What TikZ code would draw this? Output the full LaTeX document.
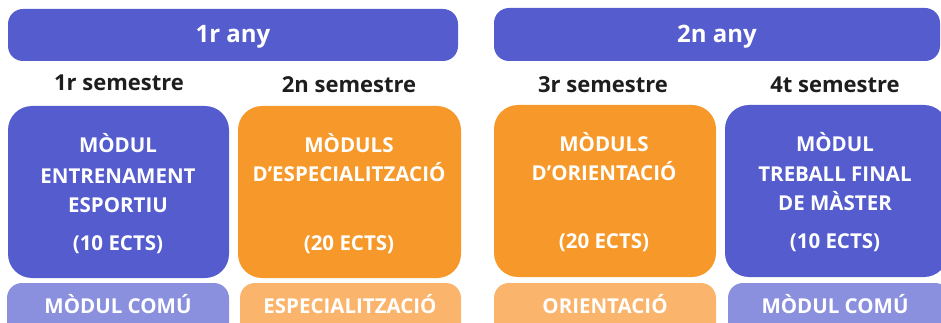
\documentclass[tikz,border=0pt]{standalone}
\usepackage{fontspec}
\setmainfont{Open Sans}
\definecolor{cblue}{RGB}{84,92,206}
\definecolor{corange}{RGB}{247,153,42}
\definecolor{clblue}{RGB}{138,144,222}
\definecolor{clorange}{RGB}{251,180,107}
\definecolor{ctext}{RGB}{30,30,30}
\tikzset{
  bar/.style={fill=cblue, draw=none, rounded corners=15pt},
  bigbox/.style={draw=none, rounded corners=24pt},
  lowbox/.style={draw=none, rounded corners=15pt},
  bartext/.style={text=white, font=\fontsize{24}{28}\selectfont\bfseries, anchor=base, inner sep=0pt},
  semtext/.style={text=ctext, font=\fontsize{22}{26}\selectfont\bfseries, anchor=base, inner sep=0pt},
  boxtext/.style={text=white, font=\fontsize{20.5}{24}\selectfont\bfseries, anchor=base, inner sep=0pt},
}
\begin{document}
\begin{tikzpicture}[x=1pt,y=-1pt]
\useasboundingbox (0,0) rectangle (941,323);
\clip (0,0) rectangle (941,323);
% year bars
\fill[bar] (8,9) rectangle (458,61);
\fill[bar] (494,8) rectangle (940,61);
\node[bartext] (y1) at (233,43) {1r any};
\node[bartext] (y2) at (717,43) {2n any};
% semesters
\node[semtext] (s1) at (119,91) {1r semestre};
\node[semtext] (s2) at (349,93) {2n semestre};
\node[semtext] (s3) at (603,93) {3r semestre};
\node[semtext] (s4) at (835,93) {4t semestre};
% big boxes
\fill[bigbox, fill=cblue] (8,106) rectangle (229,278);
\fill[bigbox, fill=corange] (238,106) rectangle (461,278);
\fill[bigbox, fill=corange] (494,105) rectangle (716,277);
\fill[bigbox, fill=cblue] (725,105) rectangle (948,277);
% low boxes
\fill[lowbox, fill=clblue] (7,283) rectangle (229,345);
\fill[lowbox, fill=clorange] (240,283) rectangle (461,345);
\fill[lowbox, fill=clorange] (494,283) rectangle (716,345);
\fill[lowbox, fill=clblue] (728,283) rectangle (950,345);
% box 1 text
\node[boxtext] (a1) at (118,153) {MÒDUL};
\node[boxtext] (a2) at (118,183) {ENTRENAMENT};
\node[boxtext] (a3) at (118,212) {ESPORTIU};
\node[boxtext] (a4) at (118,250) {(10 ECTS)};
% box 2 text
\node[boxtext] (b1) at (349,153) {MÒDULS};
\node[boxtext] (b2) at (349,182) {D’ESPECIALITZACIÓ};
\node[boxtext] (b3) at (349,250) {(20 ECTS)};
% box 3 text
\node[boxtext] (c1) at (604,152) {MÒDULS};
\node[boxtext] (c2) at (604,180) {D’ORIENTACIÓ};
\node[boxtext] (c3) at (604,248) {(20 ECTS)};
% box 4 text
\node[boxtext] (d1) at (835,152) {MÒDUL};
\node[boxtext] (d2) at (835,182) {TREBALL FINAL};
\node[boxtext] (d3) at (835,210) {DE MÀSTER};
\node[boxtext] (d4) at (835,248) {(10 ECTS)};
% low labels
\node[boxtext] (e1) at (118,313) {MÒDUL COMÚ};
\node[boxtext] (e2) at (350,313) {ESPECIALITZACIÓ};
\node[boxtext] (e3) at (605,313) {ORIENTACIÓ};
\node[boxtext] (e4) at (835,313) {MÒDUL COMÚ};
\end{tikzpicture}
\end{document}
